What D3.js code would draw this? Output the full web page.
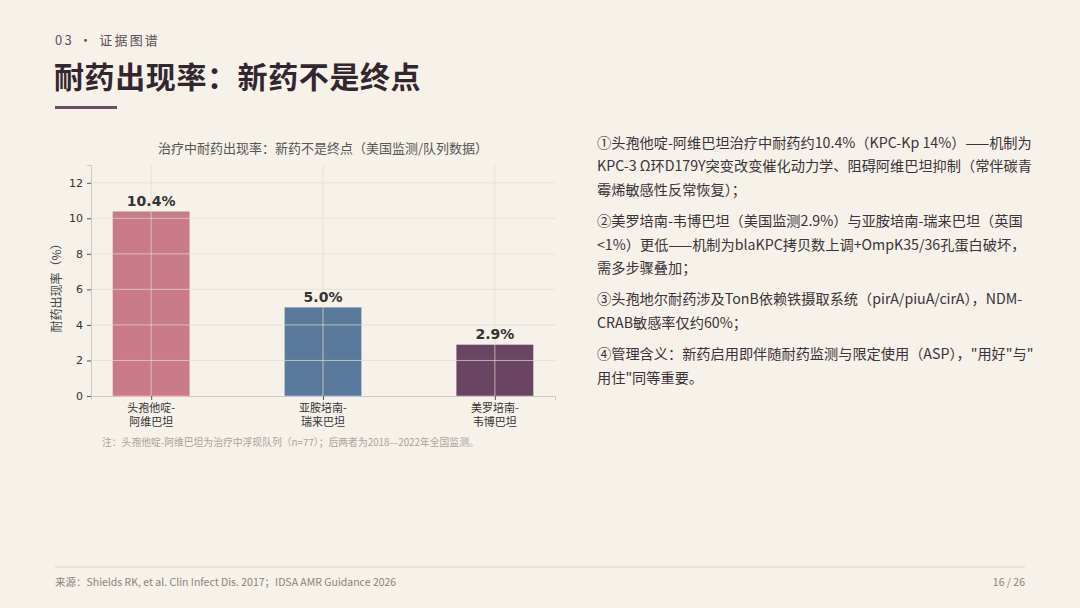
<!DOCTYPE html>
<html>
<head>
<meta charset="utf-8">
<script src="https://cdn.jsdelivr.net/npm/d3@7"></script>
<style>
  html, body { margin: 0; padding: 0; background: #f6f1e9; }
  body { width: 1080px; height: 608px; overflow: hidden; position: relative;
         font-family: "Noto Sans CJK SC", "Noto Sans", sans-serif; }
  .notes { position: absolute; left: 597px; top: 131px; width: 460px;
           font-size: 14.2px; line-height: 23.4px; color: #3a3338; }
  .notes p { margin: 0 0 8px 0; white-space: nowrap; }
</style>
</head>
<body>
<svg id="slide" width="1080" height="608"></svg>
<div class="notes">
  <p>①头孢他啶-阿维巴坦治疗中耐药约10.4%（KPC-Kp 14%）——机制为<br>KPC-3 Ω环D179Y突变改变催化动力学、阻碍阿维巴坦抑制（常伴碳青<br>霉烯敏感性反常恢复）；</p>
  <p>②美罗培南-韦博巴坦（美国监测2.9%）与亚胺培南-瑞来巴坦（英国<br>&lt;1%）更低——机制为blaKPC拷贝数上调+OmpK35/36孔蛋白破坏，<br>需多步骤叠加；</p>
  <p>③头孢地尔耐药涉及TonB依赖铁摄取系统（pirA/piuA/cirA），NDM-<br>CRAB敏感率仅约60%；</p>
  <p>④管理含义：新药启用即伴随耐药监测与限定使用（ASP），"用好"与"<br>用住"同等重要。</p>
</div>
<script>
// chart data
const drugs = [["头孢他啶-", "阿维巴坦"], ["亚胺培南-", "瑞来巴坦"], ["美罗培南-", "韦博巴坦"]];
const rates = [10.4, 5.0, 2.9];
const barColors = ["#c97b89", "#5b7a9b", "#6a4563"];
const yTicks = [0, 2, 4, 6, 8, 10, 12];

const svg = d3.select("#slide");

// header
svg.append("text").attr("x", 55).attr("y", 45)
    .attr("font-size", 13).attr("letter-spacing", 2.2).attr("fill", "#5e4e5a")
    .text("03 · 证据图谱");
svg.append("text").attr("x", 54).attr("y", 88)
    .attr("font-size", 30).attr("font-weight", 700).attr("letter-spacing", 0.6).attr("fill", "#33272f")
    .text("耐药出现率：新药不是终点");
svg.append("rect").attr("x", 55).attr("y", 106).attr("width", 62).attr("height", 3)
    .attr("fill", "#6b4c65");

// chart
const x = d3.scaleLinear().domain([-0.35, 2.35]).range([91, 555]);
const y = d3.scaleLinear().domain([0, 13]).range([396, 165]);
const barW = x(0.45) - x(0);

svg.append("text").attr("x", 323).attr("y", 153).attr("text-anchor", "middle")
    .attr("font-size", 13).attr("fill", "#555").text("治疗中耐药出现率：新药不是终点（美国监测/队列数据）");

const g = svg.append("g");

g.selectAll("rect.bar").data(rates).enter().append("rect")
    .attr("class", "bar")
    .attr("x", (d, i) => x(i) - barW / 2)
    .attr("y", d => y(d))
    .attr("width", barW)
    .attr("height", d => y(0) - y(d))
    .attr("fill", (d, i) => barColors[i])
    .attr("stroke", "rgba(255,255,255,0.45)")
    .attr("stroke-width", 0.8);

// grid drawn over the bars
const grid = g.append("g").attr("stroke", "#e2dbd0").attr("stroke-opacity", 0.7).attr("stroke-width", 1);
grid.selectAll("line.h").data(yTicks.slice(1)).enter().append("line")
    .attr("x1", x(-0.35)).attr("x2", x(2.35))
    .attr("y1", d => y(d)).attr("y2", d => y(d));
grid.selectAll("line.v").data(rates).enter().append("line")
    .attr("x1", (d, i) => x(i)).attr("x2", (d, i) => x(i))
    .attr("y1", y(13)).attr("y2", y(0));

g.selectAll("text.val").data(rates).enter().append("text")
    .attr("x", (d, i) => x(i)).attr("y", d => y(d) - 5)
    .attr("text-anchor", "middle").attr("font-size", 14).attr("font-weight", 700)
    .attr("fill", "#333").attr("font-family", "DejaVu Sans")
    .text(d => d.toFixed(1) + "%");

// axes
const yAxis = g.append("g").attr("transform", `translate(${x(-0.35)},0)`)
    .call(d3.axisLeft(y).tickValues(yTicks).tickSize(4).tickPadding(4));
const xAxis = g.append("g").attr("transform", `translate(0,${y(0)})`)
    .call(d3.axisBottom(x).tickValues([0, 1, 2]).tickSize(4).tickFormat(""));
[yAxis, xAxis].forEach(a => {
    a.select(".domain").attr("stroke", "#cfc8be");
    a.selectAll(".tick line").attr("stroke", "#555");
});
yAxis.selectAll(".tick text").attr("font-size", 11).attr("fill", "#333")
    .attr("font-family", "DejaVu Sans");

drugs.forEach((lines, i) => {
    const t = g.append("text").attr("text-anchor", "middle").attr("font-size", 11).attr("fill", "#333");
    lines.forEach((s, k) => t.append("tspan").attr("x", x(i)).attr("y", 412 + k * 14).text(s));
});

svg.append("text").attr("transform", "translate(61,285) rotate(-90)")
    .attr("text-anchor", "middle").attr("font-size", 12).attr("fill", "#444")
    .text("耐药出现率（%）");

svg.append("text").attr("x", 102).attr("y", 446).attr("font-size", 9.8).attr("fill", "#aaa39b")
    .text("注：头孢他啶-阿维巴坦为治疗中浮现队列（n=77）；后两者为2018—2022年全国监测。");

// footer
svg.append("line").attr("x1", 55).attr("x2", 1025).attr("y1", 567).attr("y2", 567)
    .attr("stroke", "#ddd5c9");
svg.append("text").attr("x", 55).attr("y", 586).attr("font-size", 10.5).attr("fill", "#8a847d")
    .text("来源：Shields RK, et al. Clin Infect Dis. 2017；IDSA AMR Guidance 2026");
svg.append("text").attr("x", 1025).attr("y", 586).attr("text-anchor", "end")
    .attr("font-size", 10.5).attr("fill", "#8a847d").text("16 / 26");
</script>
</body>
</html>
